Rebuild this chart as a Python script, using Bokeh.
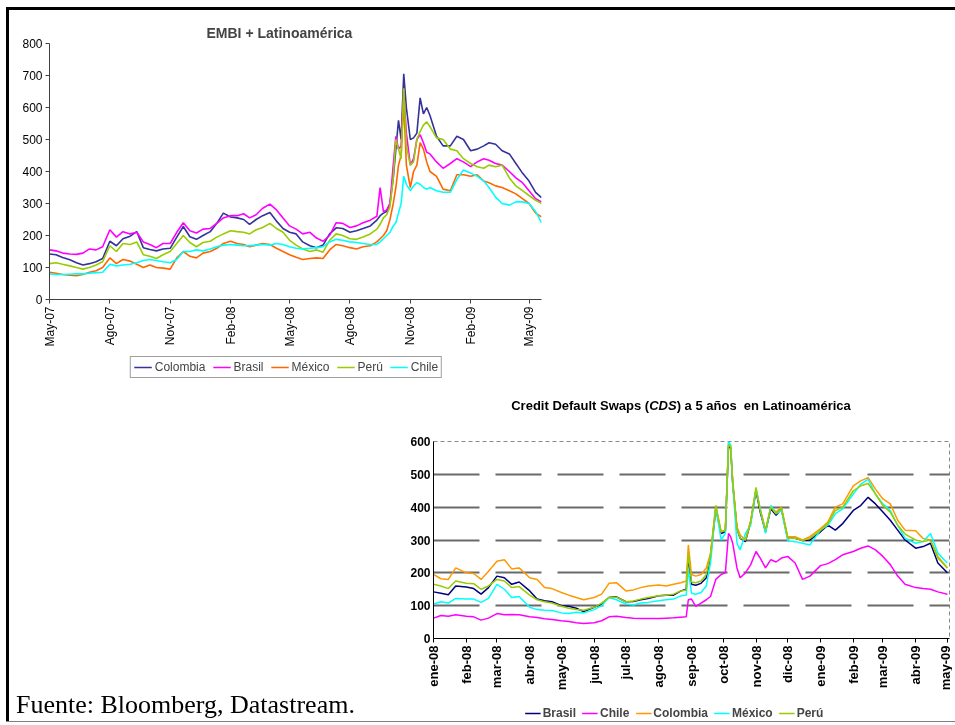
import math
import pandas as pd
from bokeh.plotting import figure
from bokeh.models import Legend, LegendItem, FixedTicker, Div, Range1d
from bokeh.embed import file_html
from bokeh.resources import INLINE

# ---------------- EMBI + Latinoamérica ----------------
embi_dates = [
    "2007-05-01", "2007-05-11", "2007-05-21", "2007-06-01", "2007-06-11", "2007-06-21",
    "2007-07-01", "2007-07-11", "2007-07-21", "2007-08-01", "2007-08-11", "2007-08-21",
    "2007-09-01", "2007-09-11", "2007-09-21", "2007-10-01", "2007-10-11", "2007-10-21",
    "2007-11-01", "2007-11-11", "2007-11-21", "2007-12-01", "2007-12-11", "2007-12-21",
    "2008-01-01", "2008-01-11", "2008-01-21", "2008-02-01", "2008-02-11", "2008-02-21",
    "2008-03-01", "2008-03-11", "2008-03-21", "2008-04-01", "2008-04-11", "2008-04-21",
    "2008-05-01", "2008-05-11", "2008-05-21", "2008-06-01", "2008-06-11", "2008-06-21",
    "2008-07-01", "2008-07-11", "2008-07-21", "2008-08-01", "2008-08-11", "2008-08-21",
    "2008-09-01", "2008-09-11",
    "2008-09-16", "2008-09-21", "2008-09-26", "2008-10-01", "2008-10-06", "2008-10-10",
    "2008-10-14", "2008-10-18", "2008-10-22", "2008-10-26",
    "2008-11-01", "2008-11-06", "2008-11-11", "2008-11-16", "2008-11-21", "2008-11-26",
    "2008-12-01", "2008-12-11", "2008-12-21",
    "2009-01-01", "2009-01-11", "2009-01-21", "2009-02-01", "2009-02-11", "2009-02-21",
    "2009-03-01", "2009-03-11", "2009-03-21", "2009-04-01", "2009-04-11", "2009-04-21",
    "2009-05-01", "2009-05-11", "2009-05-20",
]
embi_colombia = [
    142, 140, 131, 124, 115, 108, 112, 118, 128, 182, 168, 190, 198, 212, 162, 156, 152, 158, 160, 195, 228, 196, 188, 200,
    212, 238, 270, 258, 255, 250, 235, 250, 262, 272, 245, 222, 210, 205, 180, 168, 162, 170, 205, 224, 222, 210, 215, 222, 230, 248,
    262, 270, 275, 300, 380, 470, 560, 500, 705, 600,
    500, 505, 520, 630, 580, 600, 575, 510, 480,
    480, 510, 500, 465, 470, 480, 490, 485, 465, 455, 425, 395, 370, 335, 318,
]
embi_brasil = [
    155, 152, 145, 142, 141, 145, 158, 155, 165, 218, 195, 212, 205, 210, 180, 172, 162, 175, 175, 210, 240, 215, 208, 220,
    222, 238, 255, 262, 262, 268, 255, 265, 285, 298, 280, 255, 230, 220, 205, 210, 192, 182, 200, 240, 238, 225, 230, 240, 248, 260,
    350, 275, 280, 300, 420, 510, 470, 480, 650, 520,
    420, 440, 500, 515, 490, 460, 455, 430, 410,
    425, 440, 430, 415, 430, 440, 435, 425, 420, 400, 380, 365, 340, 315, 305,
]
embi_mexico = [
    85, 82, 78, 76, 74, 78, 85, 90, 100, 130, 112, 125, 120, 110, 100, 108, 100, 98, 95, 130, 150, 135, 130, 145,
    150, 160, 175, 182, 175, 172, 165, 170, 175, 172, 160, 150, 140, 132, 125, 128, 130, 128, 155, 172, 168, 162, 158, 165, 168, 180,
    190, 200, 215, 250, 300, 350, 420, 450, 620, 420,
    350, 400, 420, 490, 470, 430, 400, 385, 345,
    340, 390, 390, 385, 390, 370, 365, 355, 350, 340, 330, 315, 300, 270, 258,
]
embi_peru = [
    112, 115, 110, 105, 100, 95, 100, 108, 118, 168, 150, 175, 172, 180, 140, 135, 128, 140, 150, 175, 200, 178, 165, 178,
    182, 195, 205, 215, 212, 210, 205, 218, 225, 238, 222, 210, 185, 170, 158, 150, 155, 148, 185, 205, 200, 190, 188, 195, 205, 220,
    235, 255, 265, 290, 380, 500, 470, 440, 660, 480,
    420, 430, 500, 525, 545, 555, 540, 505, 500,
    470, 465, 440, 425, 415, 410, 420, 415, 420, 380, 355, 340, 325, 310, 300,
]
embi_chile = [
    80, 78, 78, 79, 80, 80, 82, 84, 85, 110, 105, 108, 110, 115, 122, 125, 122, 118, 115, 125, 150, 150, 155, 152,
    158, 165, 170, 172, 170, 168, 168, 170, 172, 170, 175, 172, 165, 160, 158, 160, 162, 165, 180, 188, 185, 180, 178, 175, 172, 172,
    180, 190, 200, 210, 230, 240, 270, 300, 385, 360,
    340, 355, 365, 360, 350, 345, 350, 340, 335,
    335, 375, 405, 395, 385, 370, 350, 320, 300, 295, 305, 305, 300, 275, 240,
]
embi_tick_dates = ["2007-05-01", "2007-08-01", "2007-11-01", "2008-02-01", "2008-05-01",
                   "2008-08-01", "2008-11-01", "2009-02-01", "2009-05-01"]
embi_tick_labels = ["May-07", "Ago-07", "Nov-07", "Feb-08", "May-08",
                    "Ago-08", "Nov-08", "Feb-09", "May-09"]
embi_y_ticks = [0, 100, 200, 300, 400, 500, 600, 700, 800]
embi_names = ["Colombia", "Brasil", "México", "Perú", "Chile"]
embi_colors = ["#333399", "#FF00FF", "#FF6600", "#99CC00", "#00FFFF"]

# ---------------- CDS 5 años ----------------
cds_dates = [
    "2008-01-01", "2008-01-08", "2008-01-15", "2008-01-22", "2008-02-01", "2008-02-08", "2008-02-15", "2008-02-22",
    "2008-03-01", "2008-03-08", "2008-03-15", "2008-03-22", "2008-04-01", "2008-04-08", "2008-04-15", "2008-04-22",
    "2008-05-01", "2008-05-08", "2008-05-15", "2008-05-22", "2008-06-01", "2008-06-08", "2008-06-15", "2008-06-22",
    "2008-07-01", "2008-07-08", "2008-07-15", "2008-07-22",
    "2008-08-01", "2008-08-08", "2008-08-15", "2008-08-22", "2008-08-27", "2008-08-29",
    "2008-09-01", "2008-09-05", "2008-09-10", "2008-09-15", "2008-09-19", "2008-09-24", "2008-09-29",
    "2008-10-03", "2008-10-06", "2008-10-08", "2008-10-10", "2008-10-14", "2008-10-17", "2008-10-22", "2008-10-27",
    "2008-11-01", "2008-11-05", "2008-11-10", "2008-11-15", "2008-11-20", "2008-11-25",
    "2008-12-01", "2008-12-08", "2008-12-15", "2008-12-22",
    "2009-01-01", "2009-01-08", "2009-01-15", "2009-01-22", "2009-02-01", "2009-02-08", "2009-02-15", "2009-02-22",
    "2009-03-01", "2009-03-08", "2009-03-15", "2009-03-22", "2009-04-01", "2009-04-08", "2009-04-15", "2009-04-22",
    "2009-05-01",
]
cds_brasil = [
    142, 138, 133, 160, 157, 152, 135, 155, 190, 185, 165, 172, 145, 120, 115, 112,
    100, 98, 92, 82, 95, 105, 125, 127, 112, 113, 118, 122,
    130, 132, 132, 145, 150, 250,
    165, 162, 168, 185, 250, 395, 320,
    325, 585, 580, 470, 335, 305, 295, 355,
    450, 385, 325, 395, 375, 395,
    305, 305, 298, 300,
    325, 345, 330, 350, 390, 405, 430, 410, 385, 360, 330, 300, 275, 280, 290, 230,
    200,
]
cds_chile = [
    62, 70, 68, 72, 68, 66, 56, 62, 76, 72, 73, 72, 66, 64, 60, 58,
    54, 52, 48, 46, 48, 54, 66, 68, 64, 62, 61, 61,
    61, 62, 63, 65, 66, 118,
    120, 98, 108, 118, 128, 180, 195,
    200, 320, 310, 290, 215, 185, 200, 225,
    265, 245, 215, 240, 233, 245,
    250, 230, 180, 190,
    222, 228, 240, 255, 265, 275, 282, 270, 250, 225, 190, 165, 155, 152, 150, 142,
    135,
]
cds_colombia = [
    195, 182, 180, 215, 200, 198, 180, 205, 235, 240, 212, 215, 185, 180, 155, 152,
    140, 132, 125, 118, 125, 135, 168, 170, 145, 148, 155, 160,
    163, 160, 165, 170, 175, 285,
    195, 190, 195, 215, 260, 405, 325,
    330, 595, 585, 480, 340, 315, 300, 360,
    455, 395, 330, 400, 385, 400,
    310, 310, 300, 310,
    335, 355, 400, 410, 465, 480, 490, 455, 425, 410, 360, 330, 328, 305, 300, 250,
    215,
]
cds_mexico = [
    105, 112, 108, 122, 120, 120, 110, 122, 165, 150, 125, 128, 95, 88, 86, 85,
    78, 76, 80, 78, 88, 100, 125, 118, 105, 102, 108, 110,
    115, 118, 120, 130, 132, 210,
    138, 135, 140, 160, 230, 400, 300,
    320, 600, 590, 470, 290, 270, 320, 345,
    455, 395, 320, 405, 380, 390,
    298, 295, 290, 285,
    330, 345, 380, 395, 440, 470, 485, 440, 410, 390, 345, 305, 290, 295, 320, 260,
    230,
]
cds_peru = [
    165, 160, 152, 175, 168, 167, 150, 160, 180, 175, 155, 158, 132, 118, 112, 108,
    98, 92, 88, 86, 95, 108, 125, 126, 112, 114, 120, 125,
    130, 132, 135, 145, 148, 260,
    172, 170, 175, 195, 255, 405, 325,
    330, 590, 585, 475, 335, 305, 300, 355,
    460, 390, 330, 400, 380, 398,
    305, 305, 298, 305,
    330, 350, 390, 400, 450, 465, 472, 440, 405, 385, 345, 318, 300, 295, 300, 245,
    215,
]
cds_tick_dates = ["2008-01-01", "2008-02-01", "2008-03-01", "2008-04-01", "2008-05-01", "2008-06-01",
                  "2008-07-01", "2008-08-01", "2008-09-01", "2008-10-01", "2008-11-01", "2008-12-01",
                  "2009-01-01", "2009-02-01", "2009-03-01", "2009-04-01", "2009-05-01"]
cds_tick_labels = ["ene-08", "feb-08", "mar-08", "abr-08", "may-08", "jun-08", "jul-08", "ago-08",
                   "sep-08", "oct-08", "nov-08", "dic-08", "ene-09", "feb-09", "mar-09", "abr-09", "may-09"]
cds_y_ticks = [0, 100, 200, 300, 400, 500, 600]
cds_names = ["Brasil", "Chile", "Colombia", "México", "Perú"]
cds_colors = ["#000080", "#FF00FF", "#FF9900", "#00FFFF", "#99CC00"]

for s in (embi_colombia, embi_brasil, embi_mexico, embi_peru, embi_chile):
    assert len(s) == len(embi_dates), len(s)
for s in (cds_brasil, cds_chile, cds_colombia, cds_mexico, cds_peru):
    assert len(s) == len(cds_dates), len(s)


def day(d):
    """Date -> day number (days since 1970-01-01) for a linear time axis."""
    return int(pd.Timestamp(d).value // (86400 * 10**9))


FONT = "Liberation Sans"
UP = math.pi / 2

x1 = [day(d) for d in embi_dates]
x2 = [day(d) for d in cds_dates]
embi_series = [embi_colombia, embi_brasil, embi_mexico, embi_peru, embi_chile]
cds_series = [cds_brasil, cds_chile, cds_colombia, cds_mexico, cds_peru]

# ---------------- figure 1: frame at page x 49..541, y 43..299 ----------------
p1 = figure(frame_width=492, frame_height=256,
            x_range=Range1d(day("2007-05-01"), day("2009-05-20")), y_range=Range1d(0, 800),
            output_backend="svg", toolbar_location=None,
            min_border_left=41, min_border_right=5, min_border_top=35, min_border_bottom=89,
            styles={"position": "fixed", "left": "8px", "top": "8px"})
p1.outline_line_color = None
p1.xgrid.visible = False
p1.ygrid.visible = False
p1.title.text = "EMBI + Latinoamérica"
p1.title.text_font = FONT
p1.title.text_font_size = "14px"
p1.title.text_font_style = "bold"
p1.title.align = "left"
p1.title.offset = 157
p1.title.standoff = 6

for vals, col in zip(embi_series, embi_colors):
    p1.line(x=x1, y=vals, line_color=col, line_width=1.6)

p1.xaxis.ticker = FixedTicker(ticks=[day(d) for d in embi_tick_dates])
p1.xaxis.major_label_overrides = {day(d): l for d, l in zip(embi_tick_dates, embi_tick_labels)}
p1.xaxis.major_label_orientation = UP
p1.yaxis.ticker = FixedTicker(ticks=embi_y_ticks)
for ax in (p1.xaxis[0], p1.yaxis[0]):
    ax.axis_line_color = "#404040"
    ax.major_tick_line_color = "#404040"
    ax.minor_tick_line_color = None
    ax.major_tick_in = 0
    ax.major_tick_out = 4
    ax.major_label_text_font = FONT
    ax.major_label_text_font_size = "12px"
    ax.major_label_text_color = "#000000"
    ax.major_label_standoff = 3

# ---------------- figure 2: frame at page x 433..949, y 441..638 ----------------
p2 = figure(frame_width=516, frame_height=197,
            x_range=Range1d(day("2008-01-01"), day("2009-05-03")), y_range=Range1d(0, 600),
            output_backend="svg", toolbar_location=None,
            min_border_left=425, min_border_right=3, min_border_top=53, min_border_bottom=78,
            styles={"position": "fixed", "left": "8px", "top": "388px"})
p2.outline_line_color = "#888888"
p2.outline_line_dash = "4 3"
p2.outline_line_width = 1
p2.xgrid.visible = False
p2.ygrid.ticker = FixedTicker(ticks=cds_y_ticks)
p2.ygrid.grid_line_color = "#6a6a6a"
p2.ygrid.grid_line_width = 1.8
p2.ygrid.grid_line_dash = "46 16"

for vals, col in zip(cds_series, cds_colors):
    p2.line(x=x2, y=vals, line_color=col, line_width=1.5)

p2.xaxis.ticker = FixedTicker(ticks=[day(d) for d in cds_tick_dates])
p2.xaxis.major_label_overrides = {day(d): l for d, l in zip(cds_tick_dates, cds_tick_labels)}
p2.xaxis.major_label_orientation = UP
p2.yaxis.ticker = FixedTicker(ticks=cds_y_ticks)
for ax in (p2.xaxis[0], p2.yaxis[0]):
    ax.axis_line_color = "#000000"
    ax.major_tick_line_color = "#000000"
    ax.minor_tick_line_color = None
    ax.major_tick_in = 0
    ax.major_tick_out = 4
    ax.major_label_text_font = FONT
    ax.major_label_text_font_style = "bold"
    ax.major_label_text_color = "#000000"
    ax.major_label_standoff = 3
p2.yaxis.major_label_text_font_size = "12px"
p2.yaxis.major_tick_out = 0
p2.xaxis.major_label_text_font_size = "13px"


# ---------------- legends: small figures whose frame holds the legend box ----------------
def legend_figure(xs, series, names, colors, lw, left, top, w, h, **legend_kw):
    f = figure(frame_width=w, frame_height=h, x_range=Range1d(0, 1), y_range=Range1d(0, 1),
               x_axis_location=None, y_axis_location=None, min_border=0,
               output_backend="svg", toolbar_location=None,
               styles={"position": "fixed", "left": f"{left}px", "top": f"{top}px"})
    f.xgrid.visible = False
    f.ygrid.visible = False
    f.outline_line_color = None
    f.background_fill_alpha = 0
    f.border_fill_alpha = 0
    items = []
    for name, vals, col in zip(names, series, colors):
        r = f.line(x=xs, y=vals, line_color=col, line_width=lw)
        items.append(LegendItem(label=name, renderers=[r]))
    f.add_layout(Legend(items=items, orientation="horizontal", location="center", margin=0,
                        **legend_kw))
    return f


leg_fig1 = legend_figure(x1, embi_series, embi_names, embi_colors, 1.6, 121, 354, 330, 26,
                         label_text_font=FONT, label_text_font_size="12px",
                         glyph_width=18, glyph_height=12, label_height=12, label_standoff=3,
                         spacing=7, padding=3,
                         border_line_color="#404040", border_line_width=1)
leg_fig2 = legend_figure(x2, cds_series, cds_names, cds_colors, 1.5, 514, 703, 320, 20,
                         label_text_font=FONT, label_text_font_size="12px",
                         label_text_font_style="bold",
                         glyph_width=16, glyph_height=12, label_height=12, label_standoff=2,
                         spacing=6, padding=2,
                         border_line_color=None, background_fill_alpha=0)

# ---------------- page decorations (frame, CDS title, source) ----------------
deco_html = (
    '<div style="position:fixed; left:6px; top:7px; width:3px; height:715px; background:#000;"></div>'
    '<div style="position:fixed; left:6px; top:7px; width:949px; height:3px; background:#000;"></div>'
    '<div style="position:fixed; left:6px; top:721px; width:949px; height:1px; background:#808080;"></div>'
    '<div style="position:fixed; left:431px; top:399px; width:500px; text-align:center; '
    'font-family:\'Liberation Sans\'; font-size:13px; line-height:13px; font-weight:bold; color:#000; '
    'white-space:nowrap;">Credit Default Swaps (<i>CDS</i>) a 5 años&nbsp; en Latinoamérica</div>'
    '<div style="position:fixed; left:16px; top:692px; font-family:\'Liberation Serif\'; font-size:26px; '
    'line-height:26px; color:#000; white-space:nowrap;">Fuente: Bloomberg, Datastream.</div>'
)
deco = Div(text=deco_html, width=1, height=1, margin=0)

open("out.html", "w").write(file_html([p1, p2, leg_fig1, leg_fig2, deco], INLINE))
